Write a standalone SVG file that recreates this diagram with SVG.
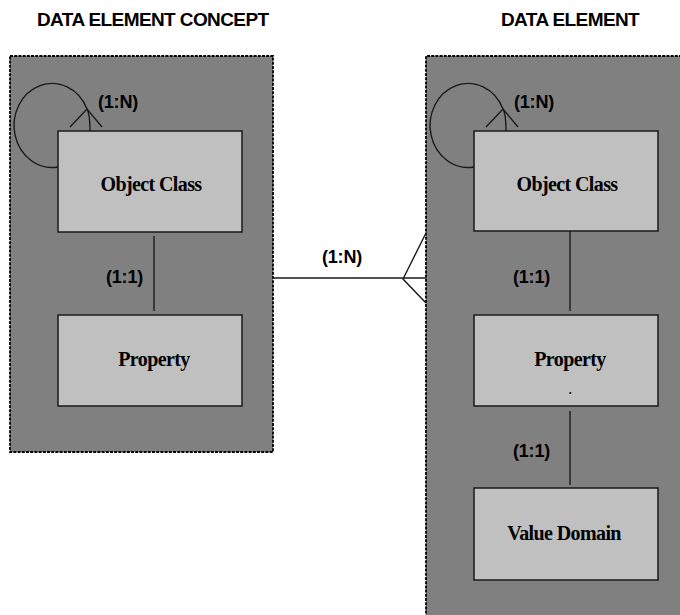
<svg xmlns="http://www.w3.org/2000/svg" width="680" height="615" viewBox="0 0 680 615">
<style>
.panel{fill:#808080;stroke:#000;stroke-width:1.8;stroke-dasharray:3 1.2}
.box{fill:#c0c0c0;stroke:#1a1a1a;stroke-width:1.5}
.ln{fill:none;stroke:#1a1a1a;stroke-width:1.4}
.hdr{font-family:"Liberation Sans",Arial,sans-serif;font-weight:bold;font-size:19px;letter-spacing:-0.6px;fill:#000}
.lbl{font-family:"Liberation Sans",Arial,sans-serif;font-weight:bold;font-size:18px;letter-spacing:-0.2px;fill:#000}
.nt{font-family:"Liberation Serif","Times New Roman",serif;font-weight:bold;font-size:20px;letter-spacing:-0.6px;fill:#000;text-anchor:middle}
</style>
<rect width="680" height="615" fill="#fff"/>
<text class="hdr" x="37" y="26">DATA ELEMENT CONCEPT</text>
<text class="hdr" x="501" y="26">DATA ELEMENT</text>
<g id="panel-dec"><rect class="panel" x="10" y="56" width="263" height="396"/></g>
<g id="panel-de"><path class="panel" d="M682 56 H426 V620 H682 Z"/></g>
<g id="connectors">
<path class="ln" d="M58 167 A38 42 0 1 1 87 109 Q90 114 90 131"/>
<path class="ln" d="M70 127 L87 109 L102 127"/>
<path class="ln" d="M474 167 A38 42 0 1 1 503 109 Q506 114 506 131"/>
<path class="ln" d="M486 127 L503 109 L518 127"/>
<path class="ln" d="M154 236 V311"/>
<path class="ln" d="M570 231 V311"/>
<path class="ln" d="M570 411 V485"/>
<path class="ln" d="M273 278 H426 M426 233 L403 279 L426 303"/>
</g>
<text class="lbl" x="98" y="108">(1:N)</text>
<text class="lbl" x="514" y="108">(1:N)</text>
<text class="lbl" x="322" y="263">(1:N)</text>
<text class="lbl" x="106" y="283">(1:1)</text>
<text class="lbl" x="513" y="283">(1:1)</text>
<text class="lbl" x="513" y="457">(1:1)</text>
<g id="dec-object-class"><rect class="box" x="58" y="131" width="184" height="101"/><text class="nt" x="151" y="191">Object Class</text></g>
<g id="dec-property"><rect class="box" x="58" y="315" width="184" height="91"/><text class="nt" x="154" y="366">Property</text></g>
<g id="de-object-class"><rect class="box" x="474" y="131" width="184" height="100"/><text class="nt" x="567" y="191">Object Class</text></g>
<g id="de-property"><rect class="box" x="474" y="315" width="184" height="91"/><text class="nt" x="570" y="366">Property</text><text class="nt" x="570" y="394" style="font-size:12px">.</text></g>
<g id="de-value-domain"><rect class="box" x="474" y="488" width="184" height="92"/><text class="nt" x="564" y="540">Value Domain</text></g>
</svg>
